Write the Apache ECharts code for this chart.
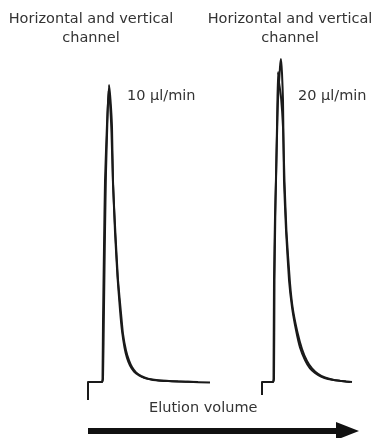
<!DOCTYPE html>
<html>
<head>
<meta charset="utf-8">
<script src="https://cdn.jsdelivr.net/npm/echarts@6/dist/echarts.min.js"></script>
<style>
  html, body { margin: 0; padding: 0; background: #fff; }
  #chart { width: 373px; height: 438px; }
</style>
</head>
<body>
<div id="chart"></div>
<script>
// elution volume (arbitrary units, from injection) and detector signal (normalised)
// 10 ul/min, two overlaid traces (horizontal / vertical channel)
const vol10a = [0, 0, 14, 14.5, 15, 16, 17, 19, 21, 22.5, 24, 25, 27, 29.5, 32, 34, 36.5, 39, 42, 46, 51, 57, 65, 80, 100, 122]
const sig10a = [-0.06, 0, 0, 0.01, 0.2, 0.45, 0.67, 0.86, 0.99, 0.94, 0.85, 0.67, 0.5, 0.35, 0.24, 0.17, 0.115, 0.08, 0.055, 0.035, 0.022, 0.013, 0.007, 0.003, 0.001, -0.002]
const vol10b = [0, 0, 14, 15, 16, 17, 18, 19.5, 20.5, 22, 23.5, 25, 27.5, 30, 33, 35, 38, 41, 44, 48, 53, 60, 70, 90, 110]
const sig10b = [-0.06, 0, 0, 0.01, 0.25, 0.5, 0.7, 0.88, 0.97, 0.93, 0.83, 0.66, 0.49, 0.34, 0.23, 0.16, 0.105, 0.072, 0.05, 0.032, 0.02, 0.011, 0.006, 0.002, 0]

// 20 ul/min
const vol20a = [0, 0, 11, 11.5, 12, 13, 14, 15, 16, 18, 19, 20, 21, 21.5, 22, 24, 27, 30, 34, 38, 43, 48, 53, 59, 66, 78, 88]
const sig20a = [-0.043, 0, 0, 0.01, 0.34, 0.55, 0.67, 0.82, 0.94, 1.05, 1.077, 1.03, 0.94, 0.8, 0.67, 0.507, 0.34, 0.25, 0.173, 0.115, 0.073, 0.045, 0.03, 0.018, 0.01, 0.004, 0]
const vol20b = [0, 0, 11, 12, 12.5, 13.5, 15, 16, 17, 19, 21, 22.5, 24.5, 28, 31, 35.5, 40, 45, 50, 56, 63, 72, 84, 90]
const sig20b = [-0.043, 0, 0, 0.01, 0.34, 0.6, 0.85, 1.033, 1.0, 0.95, 0.85, 0.67, 0.5, 0.33, 0.24, 0.165, 0.11, 0.07, 0.045, 0.027, 0.015, 0.007, 0.002, 0]

const panelTitle = 'Horizontal and vertical\nchannel'
const flowLabels = ['10 μl/min', '20 μl/min']

const zip = (xs, ys) => xs.map((x, i) => [x, ys[i]])

const lineColor = '#1a1a1a'
const trace = (name, idx, data) => ({
  name,
  type: 'line',
  xAxisIndex: idx,
  yAxisIndex: idx,
  data,
  showSymbol: false,
  smooth: 0.15,
  clip: false,
  lineStyle: { color: lineColor, width: 2 }
})

const titleStyle = { fontSize: 14.5, fontWeight: 'normal', color: '#333', lineHeight: 19, align: 'center' }

const chart = echarts.init(document.getElementById('chart'), null, { renderer: 'canvas' })

chart.setOption({
  animation: false,
  backgroundColor: '#fff',
  textStyle: { fontFamily: 'DejaVu Sans' },
  title: [
    { text: panelTitle, left: 86, top: 5, textAlign: 'center', textStyle: titleStyle },
    { text: panelTitle, left: 285, top: 5, textAlign: 'center', textStyle: titleStyle }
  ],
  grid: [
    { left: 88, width: 125, top: 52, height: 360 },
    { left: 262, width: 110, top: 52, height: 360 }
  ],
  xAxis: [
    { type: 'value', gridIndex: 0, min: 0, max: 125, show: false },
    { type: 'value', gridIndex: 1, min: 0, max: 110, show: false }
  ],
  yAxis: [
    { type: 'value', gridIndex: 0, min: -0.1, max: 1.1, show: false },
    { type: 'value', gridIndex: 1, min: -0.1, max: 1.1, show: false }
  ],
  series: [
    trace('10a', 0, zip(vol10a, sig10a)),
    trace('10b', 0, zip(vol10b, sig10b)),
    trace('20a', 1, zip(vol20a, sig20a)),
    trace('20b', 1, zip(vol20b, sig20b))
  ],
  graphic: [
    { type: 'text', left: 127, top: 89, style: { text: flowLabels[0], fill: '#333', font: '14.5px "DejaVu Sans"' } },
    { type: 'text', left: 298, top: 89, style: { text: flowLabels[1], fill: '#333', font: '14.5px "DejaVu Sans"' } },
    { type: 'text', left: 149, top: 401, style: { text: 'Elution volume', fill: '#333', font: '14.5px "DejaVu Sans"' } },
    {
      type: 'line',
      shape: { x1: 88, y1: 431, x2: 340, y2: 431 },
      style: { stroke: '#111', lineWidth: 6 }
    },
    {
      type: 'polygon',
      shape: { points: [[336, 422], [359, 431], [336, 440]] },
      style: { fill: '#111' }
    }
  ]
})
</script>
</body>
</html>
